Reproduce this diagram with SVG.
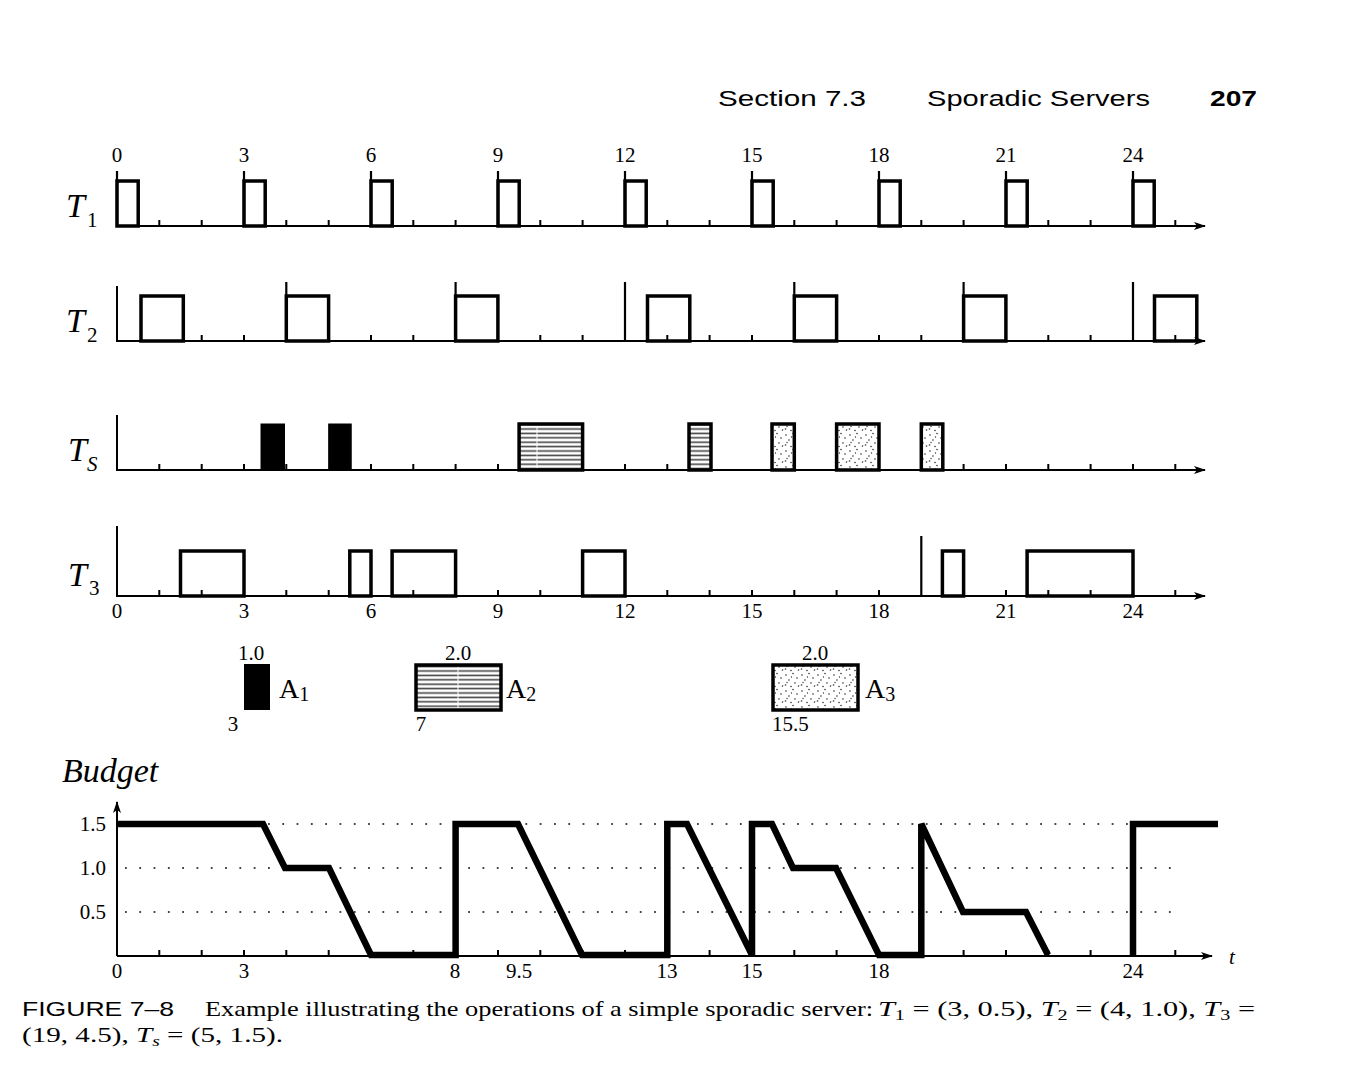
<svg xmlns="http://www.w3.org/2000/svg" width="1347" height="1079" viewBox="0 0 1347 1079">
<style>
.ax{stroke:#000;stroke-width:2;fill:none}
.tk{stroke:#000;stroke-width:2;fill:none}
.rl{stroke:#000;stroke-width:2.2;fill:none}
.bx{fill:#fff;fill-opacity:0;stroke:#000;stroke-width:3.5}
.blk{fill:#000;stroke:#000;stroke-width:1}
.hs{fill:url(#hatch);stroke:#000;stroke-width:3.5}
.ds{fill:url(#dots);stroke:#000;stroke-width:3.5}
.num{font-family:"Liberation Serif","Times New Roman",serif;font-size:21px;fill:#000}
.lab{font-family:"Liberation Serif","Times New Roman",serif;font-style:italic;font-size:34px;fill:#000}
.sub{font-family:"Liberation Serif","Times New Roman",serif;font-size:21px;fill:#000}
.leg{font-family:"Liberation Serif","Times New Roman",serif;font-size:28px;fill:#000}
.hdr{font-family:"Liberation Sans","Open Sans",sans-serif;font-size:22px;fill:#000}
.cap{font-family:"Liberation Serif","Times New Roman",serif;font-size:21px;fill:#000}
.dot{stroke:#444;stroke-width:1.8;stroke-dasharray:1.8 12.5;fill:none}
.bud{stroke:#000;stroke-width:6.5;fill:none;stroke-linejoin:miter;stroke-miterlimit:3}
</style>
<defs>
<marker id="arr" viewBox="0 0 12 8" refX="11" refY="4" markerWidth="12" markerHeight="8" markerUnits="userSpaceOnUse" orient="auto">
<path d="M0,0 L12,4 L0,8 L3,4 Z" fill="#000"/>
</marker>
<pattern id="hatch" patternUnits="userSpaceOnUse" width="10" height="4.4">
<rect width="10" height="4.4" fill="#fff"/>
<line x1="0" y1="2.2" x2="10" y2="2.2" stroke="#444" stroke-width="1.6"/>
</pattern>
<pattern id="dots" patternUnits="userSpaceOnUse" width="16" height="16">
<rect width="16" height="16" fill="#fff"/>
<g fill="#333">
<circle cx="2" cy="3" r="0.8"/><circle cx="9" cy="1.5" r="0.8"/><circle cx="13" cy="6" r="0.8"/>
<circle cx="5" cy="8" r="0.8"/><circle cx="11" cy="11" r="0.8"/><circle cx="1.5" cy="13" r="0.8"/>
<circle cx="7" cy="14.5" r="0.8"/><circle cx="14.5" cy="14" r="0.8"/><circle cx="7.5" cy="5" r="0.7"/>
<circle cx="3" cy="10.5" r="0.7"/>
</g>
</pattern>
</defs>
<rect width="1347" height="1079" fill="#fff"/>

<g id="header">
<text class="hdr" x="718" y="106" textLength="148" lengthAdjust="spacingAndGlyphs">Section 7.3</text>
<text class="hdr" x="927" y="106" textLength="223" lengthAdjust="spacingAndGlyphs">Sporadic Servers</text>
<text class="hdr" x="1210" y="106" font-weight="bold" textLength="47" lengthAdjust="spacingAndGlyphs">207</text>
</g>

<g id="row-T1">
<text class="lab" x="66" y="217">T</text><text class="sub" x="87" y="227">1</text>
<g class="num" text-anchor="middle">
<text x="117" y="162">0</text><text x="244" y="162">3</text><text x="371" y="162">6</text><text x="498" y="162">9</text><text x="625" y="162">12</text><text x="752" y="162">15</text><text x="879" y="162">18</text><text x="1006" y="162">21</text><text x="1133" y="162">24</text>
</g>
<path class="ax" d="M117,226 H1205" marker-end="url(#arr)"/>
<path class="tk" d="M159.3,226v-6M201.7,226v-6M286.3,226v-6M328.7,226v-6M413.3,226v-6M455.6,226v-6M540.3,226v-6M582.6,226v-6M667.3,226v-6M709.6,226v-6M794.3,226v-6M836.6,226v-6M921.3,226v-6M963.6,226v-6M1048.3,226v-6M1090.6,226v-6M1175.3,226v-6"/>
<path class="rl" d="M117,171V226M244,171V226M371,171V226M498,171V226M625,171V226M752,171V226M879,171V226M1006,171V226M1133,171V226"/>
<g class="bx">
<rect x="117" y="181" width="21.2" height="45"/><rect x="244" y="181" width="21.2" height="45"/><rect x="371" y="181" width="21.2" height="45"/><rect x="498" y="181" width="21.2" height="45"/><rect x="625" y="181" width="21.2" height="45"/><rect x="752" y="181" width="21.2" height="45"/><rect x="879" y="181" width="21.2" height="45"/><rect x="1006" y="181" width="21.2" height="45"/><rect x="1133" y="181" width="21.2" height="45"/>
</g>
</g>

<g id="row-T2">
<text class="lab" x="66" y="332">T</text><text class="sub" x="87" y="342">2</text>
<path class="ax" d="M117,286V341 H1205" marker-end="url(#arr)"/>
<path class="tk" d="M201.7,341v-6M244,341v-6M328.7,341v-6M371,341v-6M413.3,341v-6M498,341v-6M540.3,341v-6M582.6,341v-6M667.3,341v-6M709.6,341v-6M752,341v-6M836.6,341v-6M879,341v-6M921.3,341v-6M1006,341v-6M1048.3,341v-6M1090.6,341v-6M1175.3,341v-6"/>
<path class="rl" d="M286.3,282V341M455.6,282V341M625,282V341M794.3,282V341M963.6,282V341M1133,282V341"/>
<g class="bx">
<rect x="141" y="296" width="42.3" height="45"/><rect x="286.3" y="296" width="42.3" height="45"/><rect x="455.6" y="296" width="42.3" height="45"/><rect x="647.5" y="296" width="42.3" height="45"/><rect x="794.3" y="296" width="42.3" height="45"/><rect x="963.6" y="296" width="42.3" height="45"/><rect x="1154.5" y="296" width="42.3" height="45"/>
</g>
</g>

<g id="row-Ts">
<text class="lab" x="68" y="461">T</text><text class="sub" x="87" y="471" font-style="italic">S</text>
<path class="ax" d="M117,415V470 H1205" marker-end="url(#arr)"/>
<path class="tk" d="M159.3,470v-6M201.7,470v-6M244,470v-6M286.3,470v-6M371,470v-6M413.3,470v-6M455.6,470v-6M498,470v-6M625,470v-6M667.3,470v-6M963.6,470v-6M1006,470v-6M1048.3,470v-6M1090.6,470v-6M1133,470v-6M1175.3,470v-6"/>
<rect class="blk" x="261" y="424" width="23.5" height="46"/>
<rect class="blk" x="328.7" y="424" width="22.5" height="46"/>
<rect class="hs" x="519.1" y="424" width="63.5" height="46"/>
<line x1="537" y1="426" x2="537" y2="468" stroke="#fff" stroke-width="1"/>
<rect class="hs" x="689" y="424" width="22" height="46"/>
<rect class="ds" x="772" y="424" width="22.3" height="46"/>
<rect class="ds" x="836.6" y="424" width="42.4" height="46"/>
<rect class="ds" x="921.3" y="424" width="21.5" height="46"/>
</g>

<g id="row-T3">
<text class="lab" x="68" y="586">T</text><text class="sub" x="89" y="595">3</text>
<path class="ax" d="M117,526V596 H1205" marker-end="url(#arr)"/>
<path class="tk" d="M159.3,596v-6M201.7,596v-6M244,596v-6M286.3,596v-6M328.7,596v-6M371,596v-6M413.3,596v-6M455.6,596v-6M498,596v-6M540.3,596v-6M582.6,596v-6M625,596v-6M667.3,596v-6M709.6,596v-6M752,596v-6M794.3,596v-6M836.6,596v-6M879,596v-6M963.6,596v-6M1006,596v-6M1048.3,596v-6M1090.6,596v-6M1133,596v-6M1175.3,596v-6"/>
<path class="rl" d="M921.3,536V596"/>
<g class="bx">
<rect x="180.5" y="551" width="63.5" height="45"/><rect x="349.8" y="551" width="21.2" height="45"/><rect x="392.1" y="551" width="63.5" height="45"/><rect x="582.6" y="551" width="42.4" height="45"/><rect x="942.4" y="551" width="21.2" height="45"/><rect x="1027.1" y="551" width="105.9" height="45"/>
</g>
<g class="num" text-anchor="middle">
<text x="117" y="618">0</text><text x="244" y="618">3</text><text x="371" y="618">6</text><text x="498" y="618">9</text><text x="625" y="618">12</text><text x="752" y="618">15</text><text x="879" y="618">18</text><text x="1006" y="618">21</text><text x="1133" y="618">24</text>
</g>
</g>

<g id="legend">
<g id="A1">
<text class="num" x="251" y="660" text-anchor="middle">1.0</text>
<rect x="244" y="664" width="26" height="46" fill="#000"/>
<text class="leg" x="279" y="698">A<tspan font-size="20" dy="3">1</tspan></text>
<text class="num" x="233" y="731" text-anchor="middle">3</text>
</g>
<g id="A2">
<text class="num" x="458" y="660" text-anchor="middle">2.0</text>
<rect class="hs" x="416" y="665" width="85" height="45"/>
<line x1="458" y1="667" x2="458" y2="708" stroke="#fff" stroke-width="1"/>
<text class="leg" x="506" y="698">A<tspan font-size="20" dy="3">2</tspan></text>
<text class="num" x="421" y="731" text-anchor="middle">7</text>
</g>
<g id="A3">
<text class="num" x="815" y="660" text-anchor="middle">2.0</text>
<rect class="ds" x="773" y="665" width="85" height="45"/>
<text class="leg" x="865" y="698">A<tspan font-size="20" dy="3">3</tspan></text>
<text class="num" x="772" y="731">15.5</text>
</g>
</g>

<g id="budget">
<text class="lab" x="62" y="782" font-size="31">Budget</text>
<path class="dot" d="M125,824H1182M125,868H1182M125,912H1182"/>
<path class="ax" d="M117,956V802" marker-end="url(#arr)"/>
<path class="ax" d="M117,956H1212" marker-end="url(#arr)"/>
<path class="tk" d="M159.3,956v-6M201.7,956v-6M244,956v-6M286.3,956v-6M328.7,956v-6M371,956v-6M413.3,956v-6M455.6,956v-6M498,956v-6M540.3,956v-6M582.6,956v-6M625,956v-6M667.3,956v-6M709.6,956v-6M752,956v-6M794.3,956v-6M836.6,956v-6M879,956v-6M921.3,956v-6M963.6,956v-6M1006,956v-6M1048.3,956v-6M1090.6,956v-6M1133,956v-6M1175.3,956v-6"/>
<path class="bud" d="M117,824 L263,824 L285,868 L329,868 L371,955 L455.6,955 L455.6,824 L518,824 L582,955 L667.3,955 L667.3,824 L687,824 L752,955 L752,824 L772,824 L793,868 L836,868 L879,955 L921.3,955 L921.3,824 L963,912 L1026,912 L1048,955"/>
<path class="bud" d="M1133,955 L1133,824 L1218,824"/>
<g class="num" text-anchor="end">
<text x="106" y="831">1.5</text><text x="106" y="875">1.0</text><text x="106" y="919">0.5</text>
</g>
<g class="num" text-anchor="middle">
<text x="117" y="978">0</text><text x="244" y="978">3</text><text x="455" y="978">8</text><text x="519" y="978">9.5</text><text x="667" y="978">13</text><text x="752" y="978">15</text><text x="879" y="978">18</text><text x="1133" y="978">24</text>
</g>
<text class="num" x="1229" y="964" font-style="italic">t</text>
</g>

<g id="caption">
<text x="22" y="1016" font-family="'Liberation Sans Narrow','Liberation Sans',sans-serif" font-size="21" textLength="152" lengthAdjust="spacingAndGlyphs">FIGURE 7–8</text>
<text class="cap" x="205" y="1016" textLength="668" lengthAdjust="spacingAndGlyphs">Example illustrating the operations of a simple sporadic server:</text>
<text class="cap" x="878" y="1016" textLength="377" lengthAdjust="spacingAndGlyphs"><tspan font-style="italic">T</tspan><tspan font-size="14" dy="4">1</tspan><tspan dy="-4"> = (3, 0.5), </tspan><tspan font-style="italic">T</tspan><tspan font-size="14" dy="4">2</tspan><tspan dy="-4"> = (4, 1.0), </tspan><tspan font-style="italic">T</tspan><tspan font-size="14" dy="4">3</tspan><tspan dy="-4"> =</tspan></text>
<text class="cap" x="22" y="1042" textLength="261" lengthAdjust="spacingAndGlyphs">(19, 4.5), <tspan font-style="italic">T</tspan><tspan font-size="14" font-style="italic" dy="4">s</tspan><tspan dy="-4"> = (5, 1.5).</tspan></text>
</g>
</svg>
